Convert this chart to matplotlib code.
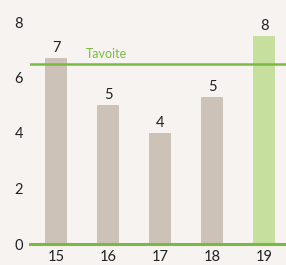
import numpy as np
import matplotlib
matplotlib.use("Agg")
import matplotlib.pyplot as plt

# data
years = ["15", "16", "17", "18", "19"]
values = [6.7, 5.0, 4.0, 5.3, 7.5]
value_labels = ["7", "5", "4", "5", "8"]
target = 6.5
target_label = "Tavoite"
yticks = [0, 2, 4, 6, 8]

bg = "#f6f3f0"
green = "#7cb844"
taupe = "#cdc2b7"
light_green = "#c6df9f"

plt.rcParams['font.family'] = ['Lato', 'DejaVu Sans']

fig = plt.figure(figsize=(2.86, 2.65), dpi=100, facecolor=bg)
ax = fig.add_axes([30 / 286, 21 / 265, 256 / 286, 8.3 * 27.75 / 265])
ax.set_facecolor(bg)

x = np.arange(len(years))
colors = [taupe] * (len(years) - 1) + [light_green]
bars = ax.bar(x, values, width=0.42, color=colors, zorder=2)

for xi, v, lab in zip(x, values, value_labels):
    ax.annotate(lab, (xi, v), xytext=(0, 2), textcoords="offset points",
                ha="center", va="bottom", fontsize=10.5, color="#222222")

ax.axhline(target, color=green, lw=1.8, zorder=3)
ax.text(0.57, target + 0.12, target_label, color=green, fontsize=9,
        ha="left", va="bottom")
ax.axhline(0, color=green, lw=2.2, zorder=3, clip_on=False)

ax.set_xlim(-0.5, 4.42)
ax.set_ylim(0, 8.3)
ax.set_xticks(x)
ax.set_xticklabels(years)
ax.set_yticks(yticks)
ax.tick_params(length=0, labelsize=10.5, labelcolor="#222222")
ax.tick_params(axis="x", pad=4)
ax.tick_params(axis="y", pad=5)
for s in ax.spines.values():
    s.set_visible(False)

fig.savefig("out.png", dpi=100, facecolor=bg)
